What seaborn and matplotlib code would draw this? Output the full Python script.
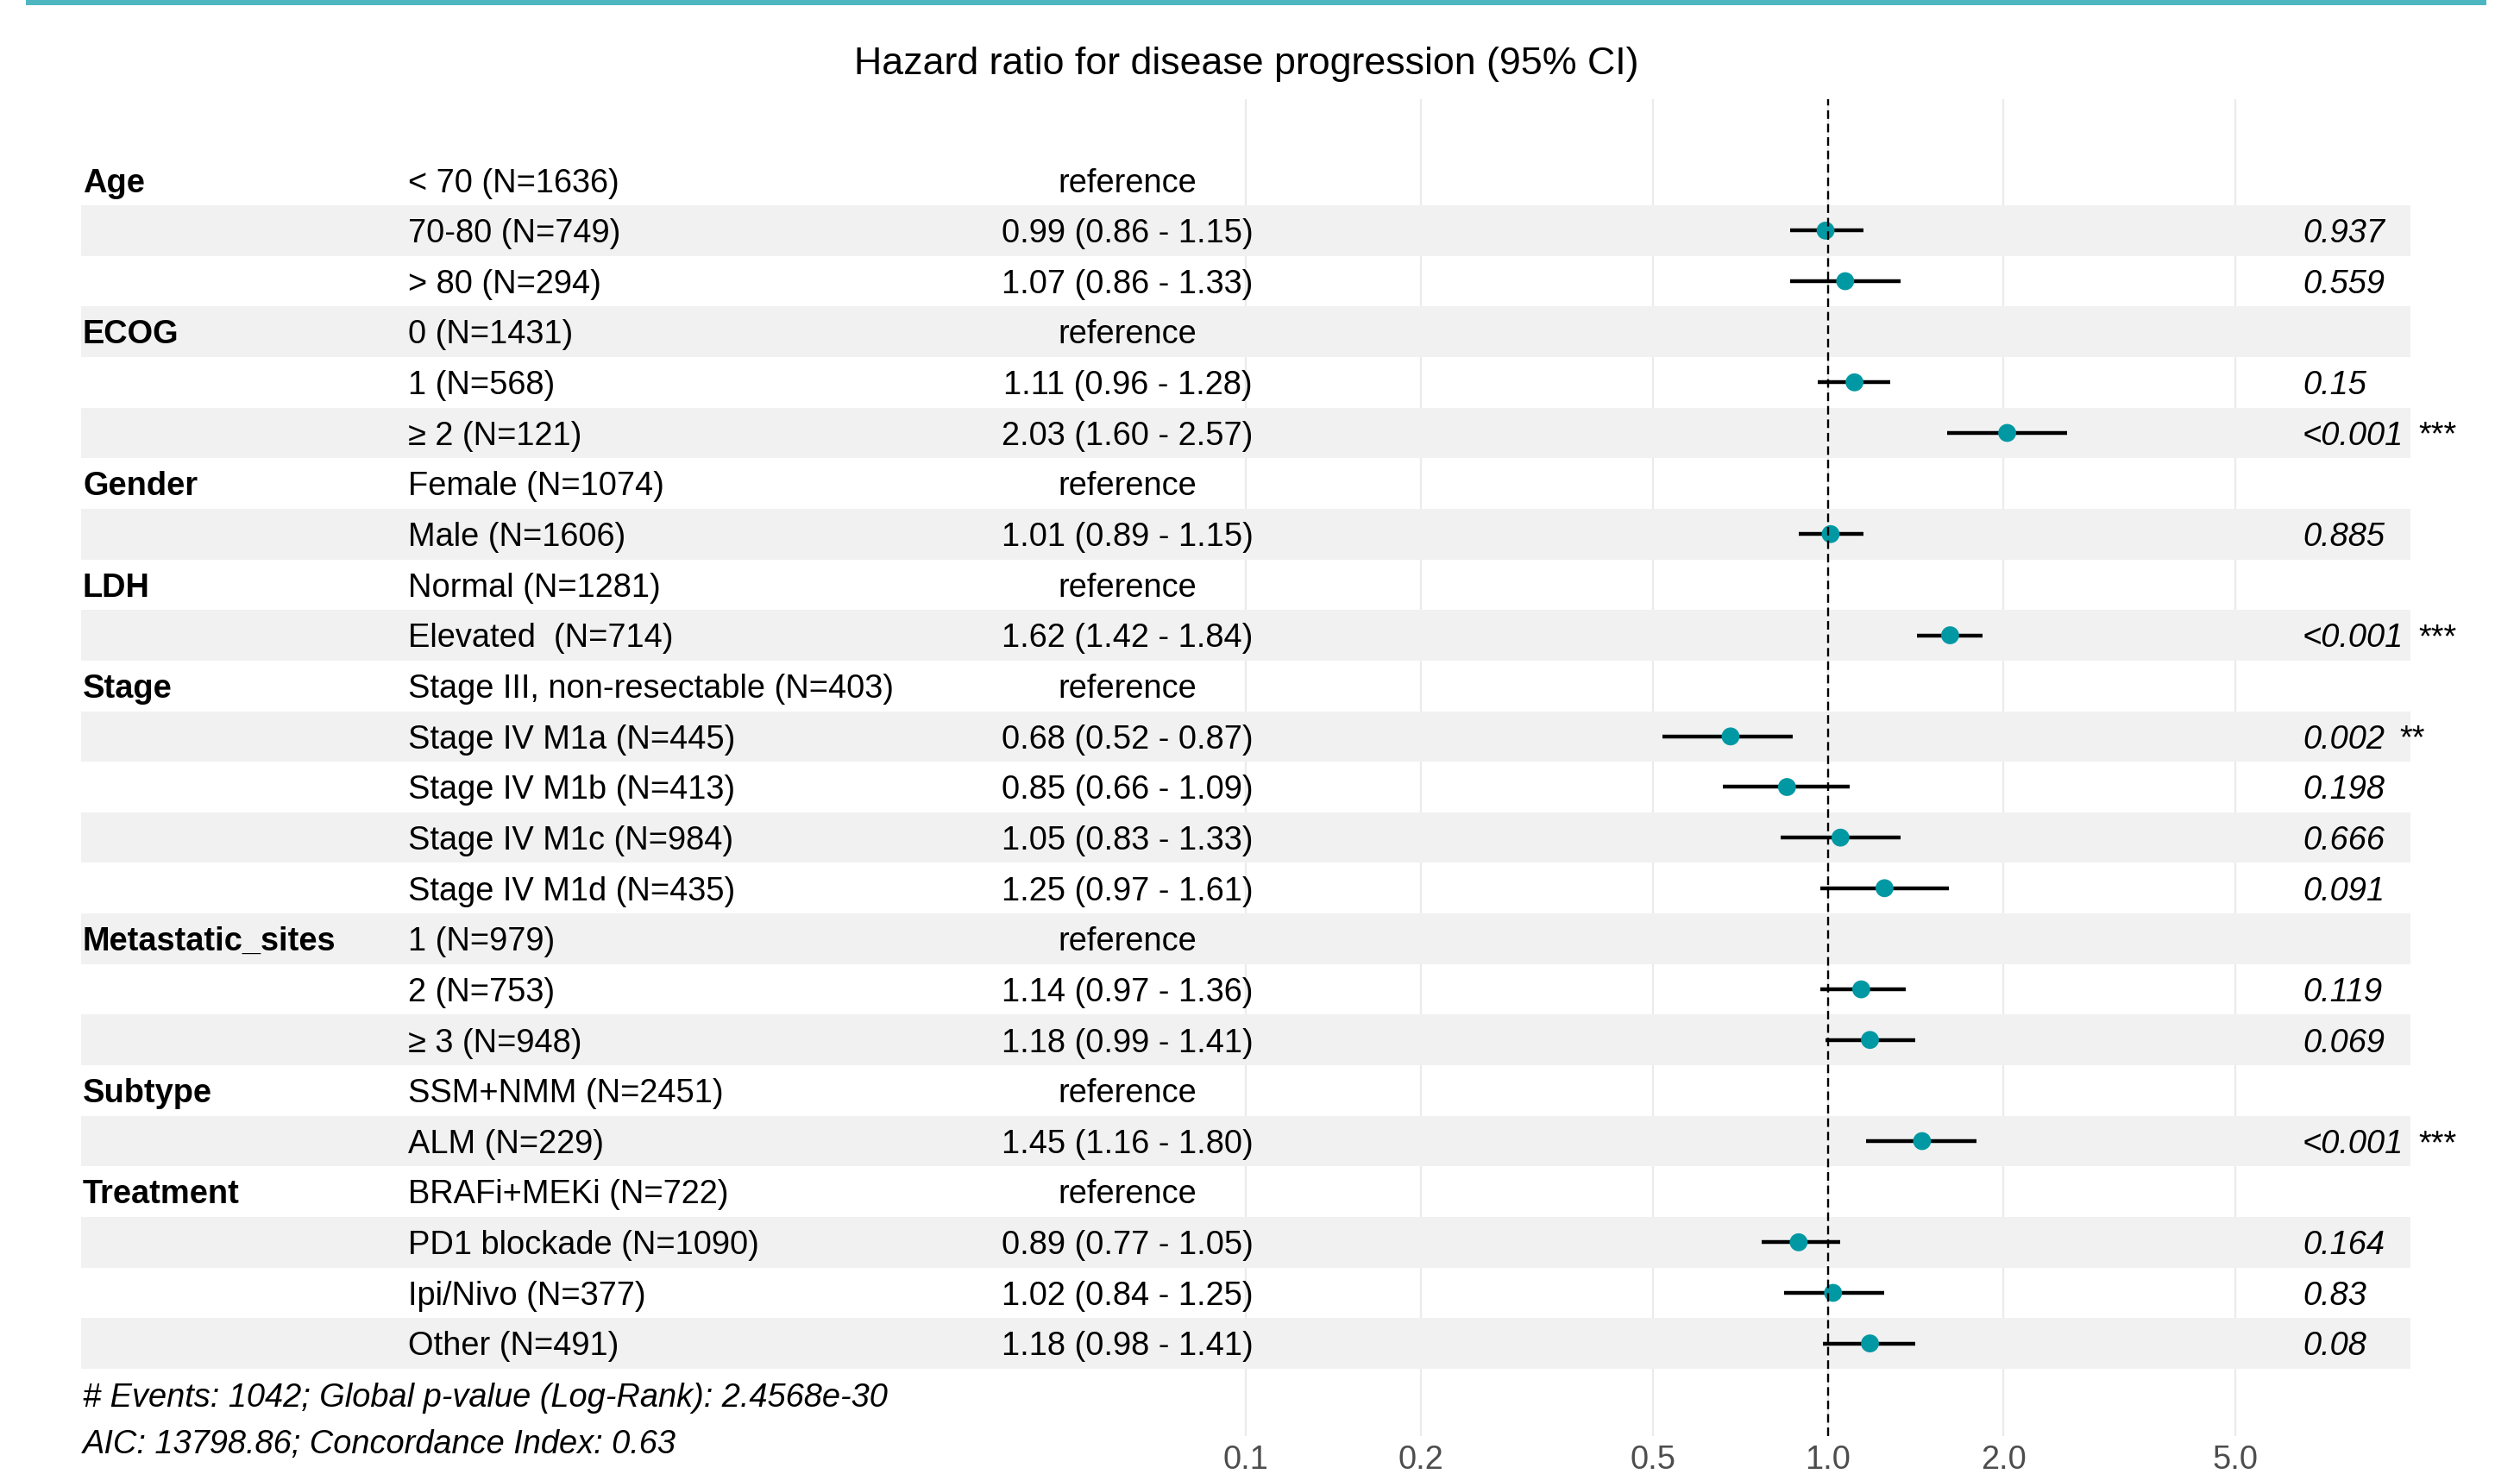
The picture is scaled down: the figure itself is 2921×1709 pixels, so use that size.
import numpy as np
import pandas as pd
import matplotlib
matplotlib.use("Agg")
import matplotlib.pyplot as plt
from matplotlib.patches import Rectangle
from matplotlib.ticker import NullLocator
from matplotlib.transforms import ScaledTranslation
import seaborn as sns

# ---- data -------------------------------------------------------------
variables = ["Age", "", "", "ECOG", "", "", "Gender", "", "LDH", "",
             "Stage", "", "", "", "", "Metastatic_sites", "", "",
             "Subtype", "", "Treatment", "", "", ""]
levels = ["< 70 (N=1636)", "70-80 (N=749)", "> 80 (N=294)",
          "0 (N=1431)", "1 (N=568)", "\u2265 2 (N=121)",
          "Female (N=1074)", "Male (N=1606)",
          "Normal (N=1281)", "Elevated  (N=714)",
          "Stage III, non-resectable (N=403)", "Stage IV M1a (N=445)",
          "Stage IV M1b (N=413)", "Stage IV M1c (N=984)", "Stage IV M1d (N=435)",
          "1 (N=979)", "2 (N=753)", "\u2265 3 (N=948)",
          "SSM+NMM (N=2451)", "ALM (N=229)",
          "BRAFi+MEKi (N=722)", "PD1 blockade (N=1090)",
          "Ipi/Nivo (N=377)", "Other (N=491)"]
nan = np.nan
hazard_ratio = [nan, 0.99, 1.07, nan, 1.11, 2.03, nan, 1.01, nan, 1.62,
                nan, 0.68, 0.85, 1.05, 1.25, nan, 1.14, 1.18, nan, 1.45,
                nan, 0.89, 1.02, 1.18]
ci_low = [nan, 0.86, 0.86, nan, 0.96, 1.60, nan, 0.89, nan, 1.42,
          nan, 0.52, 0.66, 0.83, 0.97, nan, 0.97, 0.99, nan, 1.16,
          nan, 0.77, 0.84, 0.98]
ci_high = [nan, 1.15, 1.33, nan, 1.28, 2.57, nan, 1.15, nan, 1.84,
           nan, 0.87, 1.09, 1.33, 1.61, nan, 1.36, 1.41, nan, 1.80,
           nan, 1.05, 1.25, 1.41]
p_values = ["", "0.937", "0.559", "", "0.15", "<0.001", "", "0.885", "", "<0.001",
            "", "0.002", "0.198", "0.666", "0.091", "", "0.119", "0.069", "", "<0.001",
            "", "0.164", "0.83", "0.08"]
stars = ["", "", "", "", "", "***", "", "", "", "***",
         "", "**", "", "", "", "", "", "", "", "***",
         "", "", "", ""]
x_ticks = [0.1, 0.2, 0.5, 1.0, 2.0, 5.0]
x_tick_labels = ["0.1", "0.2", "0.5", "1.0", "2.0", "5.0"]
title = "Hazard ratio for disease progression (95% CI)"
footnote_1 = "# Events: 1042; Global p-value (Log-Rank): 2.4568e-30"
footnote_2 = "AIC: 13798.86; Concordance Index: 0.63"

df = pd.DataFrame({
    "row": np.arange(1, len(levels) + 1),
    "variable": variables,
    "level": levels,
    "hr": hazard_ratio,
    "lo": ci_low,
    "hi": ci_high,
    "p": p_values,
    "stars": stars,
})
df["estimate"] = [
    "reference" if np.isnan(h) else f"{h:.2f} ({l:.2f} - {u:.2f})"
    for h, l, u in zip(df.hr, df.lo, df.hi)
]
est = df.dropna(subset=["hr"])

# ---- style ------------------------------------------------------------
sns.set_theme(style="white")
plt.rcParams["font.family"] = ["Liberation Sans", "DejaVu Sans"]
TEAL = "#0098A3"
BAND = "#F1F1F1"
GRID = "#EBEBEB"
FS = 13.7

W, H, DPI = 2921, 1709, 200
fig = plt.figure(figsize=(W / DPI, H / DPI), dpi=DPI)
fig.patch.set_facecolor("white")

# panel: log axis, 675 px per decade, 1.0 at x=2119 px
px_left, px_right, px_top, px_bottom = 94, 2794, 115, 1665
ax = fig.add_axes([px_left / W, 1 - px_bottom / H,
                   (px_right - px_left) / W, (px_bottom - px_top) / H])
ax.set_xscale("log")
ax.set_xlim(1e-3, 10)
ax.set_ylim(25.831, -0.598)
ax.set_facecolor("white")
for s in ax.spines.values():
    s.set_visible(False)


def px_to_x(px):
    return 10 ** ((px - 2119) / 675)


x_var = px_to_x(96)
x_level = px_to_x(473)
x_est = px_to_x(1307)
x_p = px_to_x(2669)

# nudge text so digits sit optically centred in each row
nudge = ScaledTranslation(0, -3.8 / DPI, fig.dpi_scale_trans)
ax_txt = ax.transData + nudge
fig_txt = fig.transFigure + nudge

# grid lines behind the alternating bands
for t in x_ticks:
    ax.axvline(t, color=GRID, lw=0.8, zorder=0.5)

for r in df.row:
    if r % 2 == 0:
        ax.axhspan(r - 0.5, r + 0.5, color=BAND, lw=0, zorder=1)

# confidence intervals and point estimates
ax.hlines(est.row, est.lo, est.hi, color="black", lw=1.6, zorder=3)
sns.scatterplot(data=est, x="hr", y="row", color=TEAL, s=56,
                edgecolor="none", linewidth=0, ax=ax, zorder=4, legend=False)
ax.axvline(1.0, color="black", lw=0.85, ls=(0, (4.2, 2.4)), zorder=5)

# table text
for _, rw in df.iterrows():
    if rw.variable:
        ax.text(x_var, rw.row, rw.variable, ha="left", va="center",
                fontsize=FS, fontweight="bold", color="black", zorder=6,
                transform=ax_txt)
    ax.text(x_level, rw.row, rw.level, ha="left", va="center",
            fontsize=FS, color="black", zorder=6, transform=ax_txt)
    ax.text(x_est, rw.row, rw.estimate, ha="center", va="center",
            fontsize=FS, color="black", zorder=6, transform=ax_txt)
    if rw.p:
        pt = ax.text(x_p, rw.row, rw.p, ha="left", va="center",
                     fontsize=FS, fontstyle="italic", color="black",
                     zorder=6, clip_on=False, transform=ax_txt)
        if rw.stars:
            ax.annotate(rw.stars, xy=(1, 0.5), xycoords=pt,
                        xytext=(6.3, 0), textcoords="offset points",
                        ha="left", va="center", fontsize=FS,
                        color="black", annotation_clip=False)

ax.set_xticks(x_ticks)
ax.set_xticklabels(x_tick_labels)
ax.xaxis.set_minor_locator(NullLocator())
ax.set_yticks([])
ax.tick_params(axis="x", length=0, pad=3.5, labelsize=FS, labelcolor="#4D4D4D")
ax.set_xlabel("")
ax.set_ylabel("")

# title, footnotes and top rule
fig.text(1445 / W, 1 - 71 / H, title, ha="center", va="center",
         fontsize=16.1, color="black", transform=fig_txt)
fig.text(96 / W, 1 - 1617 / H, footnote_1, ha="left", va="center",
         fontsize=FS, fontstyle="italic", color="black", transform=fig_txt)
fig.text(96 / W, 1 - 1671 / H, footnote_2, ha="left", va="center",
         fontsize=FS, fontstyle="italic", color="black", transform=fig_txt)
fig.add_artist(Rectangle((30 / W, 1 - 6 / H), (2882 - 30) / W, 6 / H,
                         transform=fig.transFigure, facecolor="#4DB6C1",
                         edgecolor="none"))

fig.savefig("out.png", dpi=DPI, facecolor="white")
